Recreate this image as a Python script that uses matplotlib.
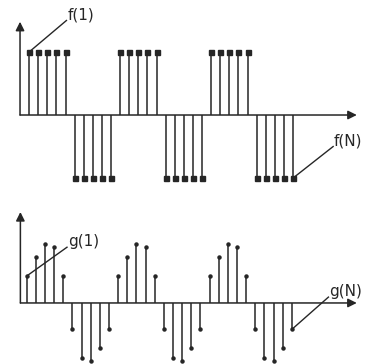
import numpy as np
import matplotlib.pyplot as plt

# sample index and values
n = np.arange(1, 31)
f_vals = [1, 1, 1, 1, 1, -1, -1, -1, -1, -1] * 3
g_vals = [0.46, 0.78, 1.0, 0.95, 0.46, -0.45, -0.93, -0.99, -0.76, -0.45] * 3
f_labels = ["f(1)", "f(N)"]
g_labels = ["g(1)", "g(N)"]

ink = "#262626"


def draw_axes_arrows(ax, x0, x_end, y_end):
    arrow = dict(arrowstyle="-|>", color=ink, lw=1.1, mutation_scale=13,
                 shrinkA=0, shrinkB=0)
    ax.annotate("", xy=(x_end, 0), xytext=(x0, 0), arrowprops=arrow)
    ax.annotate("", xy=(x0, y_end), xytext=(x0, 0), arrowprops=arrow)


def leader(ax, start, end, text):
    ax.plot([start[0], end[0]], [start[1], end[1]], color=ink, lw=1.0)
    ax.text(end[0] + 0.1, end[1] - 0.03, text, fontsize=11, color=ink,
            ha="left", va="bottom")


fig = plt.figure(figsize=(3.65, 3.64), dpi=100)
ax_top = fig.add_axes([0, 174 / 364, 1, 190 / 364])
ax_bot = fig.add_axes([0, 0, 1, 174 / 364])

# top panel: square wave
ax_top.vlines(n, 0, f_vals, color=ink, lw=1.1)
ax_top.plot(n, f_vals, "s", color=ink, markersize=3.6, ls="none")
draw_axes_arrows(ax_top, 0, 37, 1.48)
leader(ax_top, (n[0], f_vals[0]), (5.1, 1.5), f_labels[0])
leader(ax_top, (n[-1], f_vals[-1]), (34.4, -0.5), f_labels[1])
ax_top.set_xlim(-2.2, 37.9)
ax_top.set_ylim(-1.19, 1.825)
ax_top.axis("off")

# bottom panel: sampled sine
ax_bot.vlines(n, 0, g_vals, color=ink, lw=1.1)
ax_bot.plot(n, g_vals, "o", color=ink, markersize=2.2, ls="none")
draw_axes_arrows(ax_bot, 0.3, 37.1, 1.55)
leader(ax_bot, (n[0], g_vals[0]), (5.4, 0.95), g_labels[0])
leader(ax_bot, (n[-1], g_vals[-1]), (34.0, 0.1), g_labels[1])
ax_bot.set_xlim(-1.93, 38.0)
ax_bot.set_ylim(-1.04, 1.925)
ax_bot.axis("off")

fig.savefig("out.png", dpi=100)
